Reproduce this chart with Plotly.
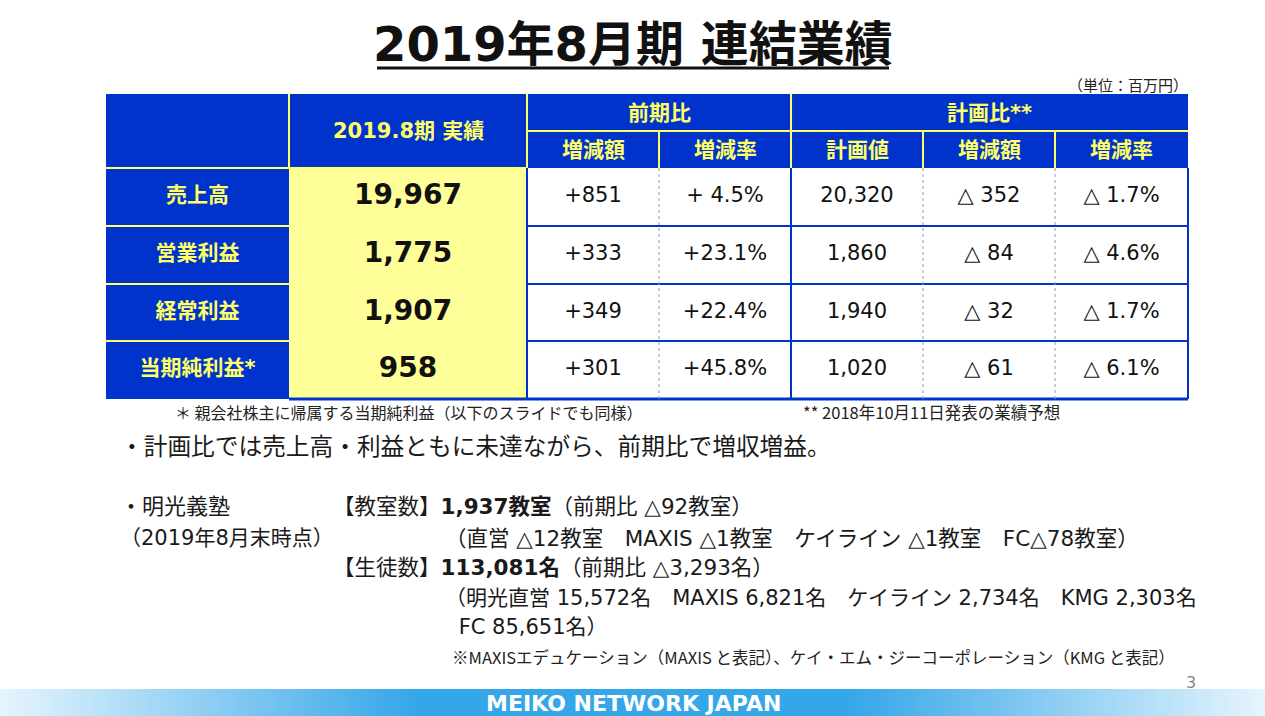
import plotly.graph_objects as go

# ---- data (単位：百万円) ----
row_labels = ["売上高", "営業利益", "経常利益", "当期純利益*"]
actual = [19967, 1775, 1907, 958]
yoy_diff = [851, 333, 349, 301]
yoy_rate = [4.5, 23.1, 22.4, 45.8]
plan = [20320, 1860, 1940, 1020]
plan_diff = [-352, -84, -32, -61]
plan_rate = [-1.7, -4.6, -1.7, -6.1]

actual_header = "2019.8期 実績"
group_headers = ["前期比", "計画比**"]
sub_headers = ["増減額", "増減率", "計画値", "増減額", "増減率"]

title = "2019年8月期 連結業績"
unit_note = "（単位：百万円）"
foot_left = "＊ 親会社株主に帰属する当期純利益（以下のスライドでも同様）"
foot_right = "** 2018年10月11日発表の業績予想"
body_lines = [
    "・計画比では売上高・利益ともに未達ながら、前期比で増収増益。",
    "・明光義塾",
    "（2019年8月末時点）",
    "【教室数】<b>1,937教室</b>（前期比 △92教室）",
    "（直営 △12教室　MAXIS △1教室　ケイライン △1教室　FC△78教室）",
    "【生徒数】<b>113,081名</b>（前期比 △3,293名）",
    "（明光直営 15,572名　MAXIS 6,821名　ケイライン 2,734名　KMG 2,303名",
    " FC 85,651名）",
]
note_line = "※MAXISエデュケーション（MAXIS と表記）、ケイ・エム・ジーコーポレーション（KMG と表記）"
page_no = "3"
footer_text = "MEIKO NETWORK JAPAN"


def fmt_diff(v):
    return f"+{v:,}" if v >= 0 else f"△ {abs(v):,}"


def fmt_rate(v):
    return f"+{v:4.1f}%" if v >= 0 else f"△{abs(v):4.1f}%"


# ---- layout ----
W, H = 1265, 716
col_edges = [106, 289, 527, 659, 791, 923, 1055, 1188]
head_y = [94, 131, 168]
row_edges = [168, 226, 284, 341, 399]

BLUE = "#0033cc"
YTXT = "#ffff66"
YFILL = "#ffff99"
GRAY = "#8c9cc8"
FONT = "DejaVu Sans, Noto Sans CJK JP"
JP = "Noto Sans CJK JP"

fig = go.Figure()
shapes = []


def rect(x0, y0, x1, y1, color):
    shapes.append(dict(type="rect", x0=x0, y0=y0, x1=x1, y1=y1, fillcolor=color,
                       line=dict(width=0), layer="below"))


def line(x0, y0, x1, y1, color, width=2, dash="solid"):
    shapes.append(dict(type="line", x0=x0, y0=y0, x1=x1, y1=y1,
                       line=dict(color=color, width=width, dash=dash)))


# cell fills
rect(col_edges[0], head_y[0], col_edges[-1], head_y[2], BLUE)
rect(col_edges[0], row_edges[0], col_edges[1], row_edges[-1], BLUE)
rect(col_edges[1], row_edges[0], col_edges[2], row_edges[-1], YFILL)

# header grid (yellow)
for x in [col_edges[1], col_edges[2], col_edges[4]]:
    line(x, head_y[0], x, head_y[2], YTXT)
for x in [col_edges[3], col_edges[5], col_edges[6]]:
    line(x, head_y[1], x, head_y[2], YTXT)
line(col_edges[2], head_y[1], col_edges[-1], head_y[1], YTXT)
line(col_edges[0], head_y[2], col_edges[2], head_y[2], YTXT)
for y in row_edges[1:-1]:
    line(col_edges[0], y, col_edges[1], y, YTXT)

# body grid (blue / gray)
for y in row_edges[1:]:
    line(col_edges[2], y, col_edges[-1], y, BLUE)
line(col_edges[1], row_edges[-1], col_edges[-1], row_edges[-1], BLUE, 3)
for x in [col_edges[2], col_edges[4], col_edges[-1]]:
    line(x, row_edges[0], x, row_edges[-1], BLUE)
for x in [col_edges[3], col_edges[5], col_edges[6]]:
    line(x, row_edges[0], x, row_edges[-1], GRAY, 1, "dot")

# title underline
line(377, 68, 889, 68, "#111111", 3)

fig.update_layout(shapes=shapes)

# cell texts
row_mid = [(row_edges[i] + row_edges[i + 1]) / 2 for i in range(len(row_labels))]
col_mid = [(col_edges[i] + col_edges[i + 1]) / 2 for i in range(len(col_edges) - 1)]


def text_col(xc, texts, size, color, bold=False, family=FONT):
    t = [f"<b>{s}</b>" if bold else s for s in texts]
    fig.add_trace(go.Scatter(x=[xc] * len(t), y=row_mid, mode="text", text=t,
                             textposition="middle center",
                             textfont=dict(size=size, color=color, family=family),
                             hoverinfo="skip", showlegend=False, cliponaxis=False))


text_col(col_mid[0], row_labels, 21, YTXT, True)
text_col(col_mid[1], [f"{v:,}" for v in actual], 28, "#111111", True)
text_col(col_mid[2], [fmt_diff(v) for v in yoy_diff], 21, "#111111")
text_col(col_mid[3], [fmt_rate(v) for v in yoy_rate], 21, "#111111")
text_col(col_mid[4], [f"{v:,}" for v in plan], 21, "#111111")
text_col(col_mid[5], [fmt_diff(v) for v in plan_diff], 21, "#111111")
text_col(col_mid[6], [fmt_rate(v) for v in plan_rate], 21, "#111111")

# footer gradient bar
fig.add_trace(go.Scatter(x=[0, W, W, 0, 0], y=[689, 689, H, H, 689], mode="lines",
                         fill="toself", line=dict(width=0),
                         fillgradient=dict(type="horizontal", colorscale=[
                             [0, "#e6f5fd"], [0.33, "#35a6e8"], [0.67, "#35a6e8"], [1, "#e6f5fd"]]),
                         hoverinfo="skip", showlegend=False))

ann = []


def note(x, y, text, size, color="#1a1a1a", anchor="left", family=FONT):
    ann.append(dict(x=x, y=y, text=text, showarrow=False, xanchor=anchor, yanchor="middle",
                    font=dict(size=size, color=color, family=family)))


note(633, 44, f"<b>{title}</b>", 48, "#111111", "center")
note(1190, 84, unit_note, 15, "#222222", "right", JP)

note((col_edges[1] + col_edges[2]) / 2, (head_y[0] + head_y[2]) / 2, f"<b>{actual_header}</b>", 21, YTXT, "center")
note((col_edges[2] + col_edges[4]) / 2, (head_y[0] + head_y[1]) / 2, f"<b>{group_headers[0]}</b>", 21, YTXT, "center")
note((col_edges[4] + col_edges[7]) / 2, (head_y[0] + head_y[1]) / 2, f"<b>{group_headers[1]}</b>", 21, YTXT, "center")
for i, s in enumerate(sub_headers):
    note(col_mid[i + 2], (head_y[1] + head_y[2]) / 2, f"<b>{s}</b>", 21, YTXT, "center")

note(173, 412, foot_left, 16, "#222222", "left", JP)
note(801, 412, foot_right, 16.5, "#222222", "left", JP)

body_pos = [(118, 447), (118, 506), (118, 538), (331, 506), (443, 538), (331, 567), (443, 598), (450, 627)]
body_size = [23.7, 22, 21, 21.5, 21.5, 21.5, 21, 21]
for (x, y), s, fs in zip(body_pos, body_lines, body_size):
    note(x, y, s, fs, "#1a1a1a", "left")

note(450, 657, note_line, 16.5, "#222222", "left", JP)
note(1198, 682, page_no, 16, "#888888", "right")
note(633, 703, f"<b>{footer_text}</b>", 22, "#ffffff", "center", "DejaVu Sans")

fig.update_layout(
    annotations=ann,
    width=W, height=H,
    margin=dict(l=0, r=0, t=0, b=0),
    paper_bgcolor="white", plot_bgcolor="white",
    xaxis=dict(range=[0, W], visible=False, fixedrange=True),
    yaxis=dict(range=[H, 0], visible=False, fixedrange=True),
)

fig.write_html("out.html", config={"displayModeBar": False},
               post_script="document.body.style.margin='0';")
